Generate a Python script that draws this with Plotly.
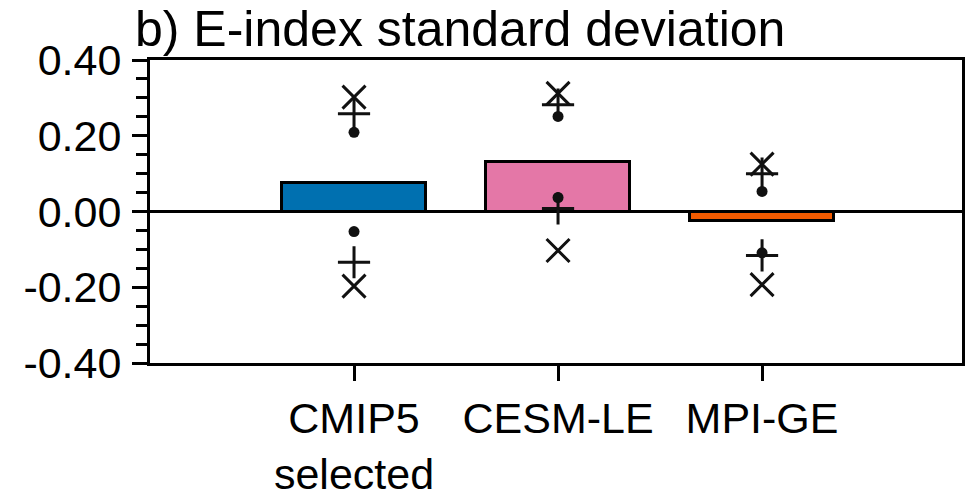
import plotly.graph_objects as go

# Ensemble groups and the mean change in E-index standard deviation
categories = ["CMIP5<br>selected", "CESM-LE", "MPI-GE"]
bar_values = [0.076, 0.130, -0.026]
bar_colors = ["#0070B0", "#E477A7", "#F25A00"]

# Spread statistics drawn over each bar (upper and lower members)
upper_x = [0.302, 0.312, 0.125]
upper_plus = [0.258, 0.282, 0.100]
upper_dot = [0.209, 0.251, 0.053]
lower_dot = [-0.053, 0.037, -0.109]
lower_plus = [-0.134, 0.008, -0.116]
lower_x = [-0.197, -0.103, -0.193]

y_ticks = [-0.4, -0.2, 0.0, 0.2, 0.4]
y_ticktext = ["-0.40", "-0.20", "0.00", "0.20", "0.40"]

positions = list(range(len(categories)))
FONT = "Liberation Sans, Arial, sans-serif"

fig = go.Figure()

fig.add_trace(go.Bar(
    x=positions, y=bar_values, width=0.71,
    marker=dict(color=bar_colors, line=dict(color="black", width=3)),
    showlegend=False, hoverinfo="skip",
))


def add_markers(values, symbol, size, width):
    fig.add_trace(go.Scatter(
        x=positions, y=values, mode="markers", showlegend=False,
        marker=dict(symbol=symbol, size=size, color="#111111",
                    line=dict(color="#111111", width=width)),
    ))


add_markers(upper_x, "x-thin", 23, 3)
add_markers(lower_x, "x-thin", 23, 3)
add_markers(upper_plus, "cross-thin", 23, 3)
add_markers(lower_plus, "cross-thin", 23, 3)
add_markers(upper_dot, "circle", 11, 0)
add_markers(lower_dot, "circle", 11, 0)

fig.update_layout(
    width=968, height=496,
    margin=dict(l=150, r=6, t=60, b=133, autoexpand=False),
    paper_bgcolor="white", plot_bgcolor="white",
    font=dict(family=FONT, size=43, color="black"),
    title=dict(text="b) E-index standard deviation",
               font=dict(family=FONT, size=50, color="black"),
               xref="container", x=135 / 968, xanchor="left",
               yref="container", y=1 - 28 / 496, yanchor="middle"),
    bargap=0,
)

fig.update_xaxes(
    range=[-1.0, 2.98], tickmode="array", tickvals=positions, ticktext=categories,
    ticks="outside", ticklen=15, tickwidth=3, tickcolor="black",
    showline=True, linewidth=3, linecolor="black", mirror=True,
    showgrid=False, zeroline=False, ticklabelstandoff=0, automargin=False,
)

fig.update_yaxes(
    range=[-0.4, 0.4], tickmode="array", tickvals=y_ticks, ticktext=y_ticktext,
    ticks="outside", ticklen=15, tickwidth=3, tickcolor="black",
    minor=dict(dtick=0.05, ticks="outside", ticklen=11, tickwidth=3,
               tickcolor="black", showgrid=False),
    showline=True, linewidth=3, linecolor="black", mirror=True,
    showgrid=False, zeroline=True, zerolinecolor="black", zerolinewidth=2.5,
    ticklabelstandoff=2, automargin=False,
)

fig.write_html("out.html")
